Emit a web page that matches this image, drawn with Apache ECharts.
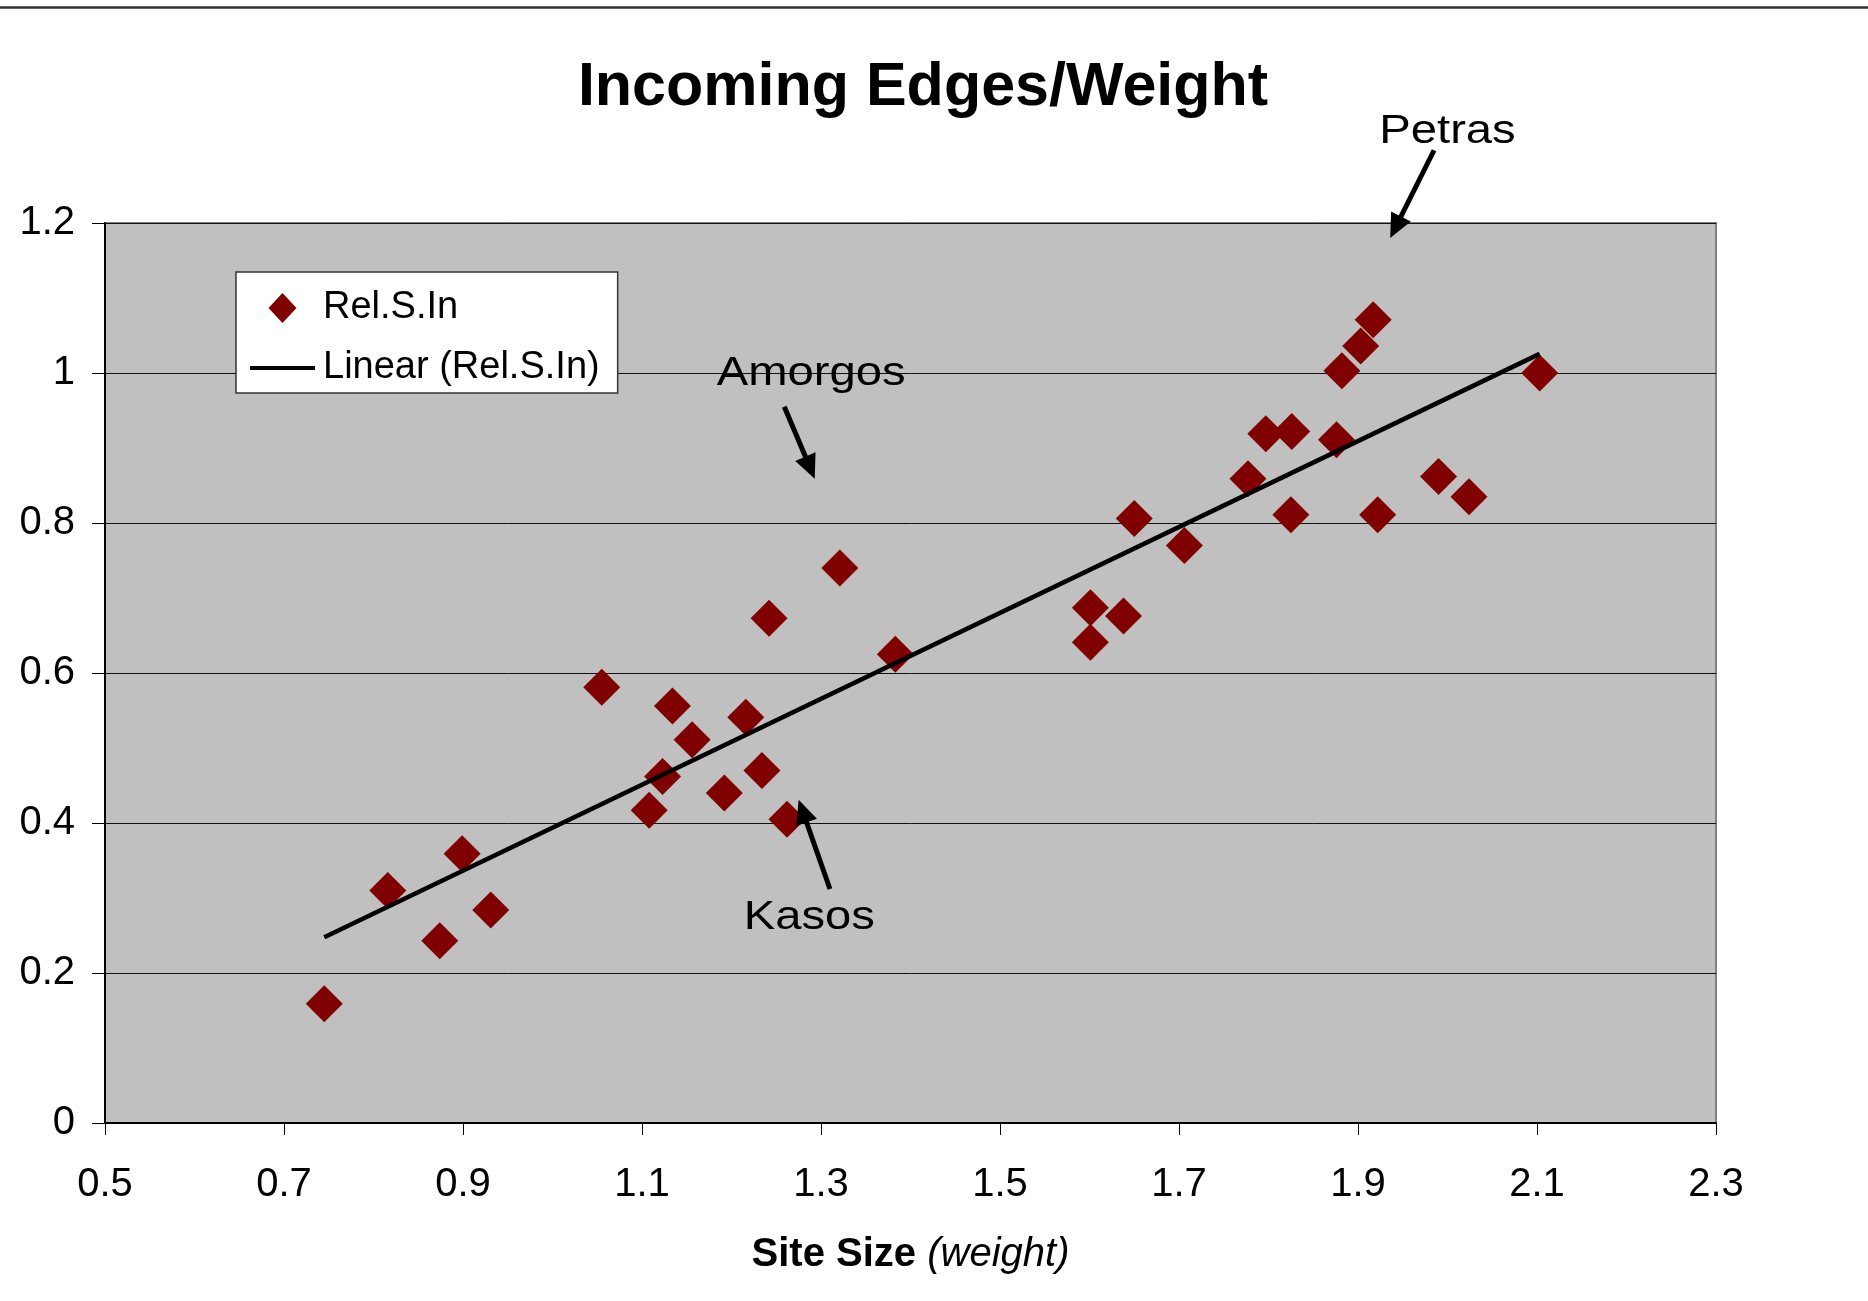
<!DOCTYPE html>
<html>
<head>
<meta charset="utf-8">
<script src="https://cdn.jsdelivr.net/npm/echarts@6/dist/echarts.min.js"></script>
<style>
html,body{margin:0;padding:0;background:#fff;}
#c{width:1868px;height:1301px;}
</style>
</head>
<body>
<div id="c"></div>
<script>
// ---- data ----
const siteSize = [0.745,0.816,0.874,0.899,0.931,1.055,1.108,1.123,1.134,1.156,1.192,1.216,1.234,1.242,1.262,1.321,1.383,1.601,1.601,1.638,1.650,1.706,1.777,1.797,1.826,1.825,1.876,1.882,1.903,1.917,1.922,1.990,2.024,2.103];
const relSIn  = [0.159,0.310,0.243,0.359,0.284,0.581,0.417,0.462,0.556,0.511,0.440,0.541,0.470,0.673,0.405,0.740,0.625,0.687,0.641,0.676,0.806,0.770,0.859,0.919,0.922,0.811,0.911,1.003,1.036,1.071,0.811,0.862,0.835,1.000];
const xTickValues = [0.5,0.7,0.9,1.1,1.3,1.5,1.7,1.9,2.1,2.3];
const yTickValues = [0,0.2,0.4,0.6,0.8,1,1.2];
const seriesNames = ['Rel.S.In','Linear (Rel.S.In)'];
const chartTitle = 'Incoming Edges/Weight';
// annotation anchors in data units: label centre, arrow tail, arrow tip
const annotationLabels = ['Petras','Amorgos','Kasos'];
const annotationText  = [[2.000,1.322],[1.289,0.999],[1.287,0.274]];
const annotationTail  = [[1.985,1.297],[1.259,0.955],[1.310,0.312]];
const annotationTip   = [[1.936,1.180],[1.293,0.859],[1.275,0.431]];

// ---- linear least-squares trend line (as the spreadsheet trendline) ----
const n = siteSize.length;
let sx=0,sy=0,sxx=0,sxy=0;
for(let i=0;i<n;i++){sx+=siteSize[i];sy+=relSIn[i];sxx+=siteSize[i]*siteSize[i];sxy+=siteSize[i]*relSIn[i];}
const slope=(n*sxy-sx*sy)/(n*sxx-sx*sx);
const intercept=(sy-slope*sx)/n;
const xMin=Math.min(...siteSize), xMax=Math.max(...siteSize);
const trend=[[xMin,intercept+slope*xMin],[xMax,intercept+slope*xMax]];

const FONT='"Liberation Sans", Arial, sans-serif';
// legend icons drawn inside a 65x30 box (extra moveTo points fix the box)
const diamondIcon='path://M0,0 M65,30 M32.5,0 L46.5,15 L32.5,30 L18.5,15 Z';
const lineIcon='path://M0,0 M65,30 M0,13 L65,13 L65,17 L0,17 Z';

const chart=echarts.init(document.getElementById('c'),null,{renderer:'canvas'});
chart.setOption({
  animation:false,
  backgroundColor:'#ffffff',
  grid:{left:105,right:152,top:223,bottom:178,show:true,backgroundColor:'#C0C0C0',borderColor:'#808080',borderWidth:2},
  legend:{
    orient:'vertical',left:236,top:272,
    padding:[17,18,6,14],itemGap:22,itemWidth:65,itemHeight:30,
    backgroundColor:'#ffffff',borderColor:'#333333',borderWidth:1.5,borderRadius:0,
    textStyle:{fontFamily:FONT,fontSize:38,color:'#000',padding:[0,0,0,3]},
    data:[{name:seriesNames[0],icon:diamondIcon},{name:seriesNames[1],icon:lineIcon}]
  },
  xAxis:{
    type:'value',min:xTickValues[0],max:xTickValues[xTickValues.length-1],interval:0.2,
    axisLine:{show:true,onZero:false,lineStyle:{color:'#000',width:2}},
    axisTick:{show:true,length:12,lineStyle:{color:'#000',width:1}},
    splitLine:{show:false},
    axisLabel:{fontFamily:FONT,fontSize:40,color:'#000',margin:42,formatter:v=>String(+v.toFixed(1))},
    name:'{b|Site Size }{i|(weight)}',nameLocation:'middle',nameGap:112,
    nameTextStyle:{rich:{b:{fontFamily:FONT,fontSize:40,fontWeight:'bold',color:'#000'},i:{fontFamily:FONT,fontSize:40,fontStyle:'italic',color:'#000'}}}
  },
  yAxis:{
    type:'value',min:yTickValues[0],max:yTickValues[yTickValues.length-1],interval:0.2,
    axisLine:{show:true,lineStyle:{color:'#000',width:2}},
    axisTick:{show:true,length:13,lineStyle:{color:'#000',width:1}},
    splitLine:{show:true,lineStyle:{color:'#111',width:1}},
    axisLabel:{fontFamily:FONT,fontSize:40,color:'#000',margin:30,formatter:v=>String(+v.toFixed(1))}
  },
  series:[
    {name:seriesNames[0],type:'scatter',symbol:'diamond',symbolSize:37,z:2,
     itemStyle:{color:'#800000',opacity:1},
     data:siteSize.map((x,i)=>[x,relSIn[i]])},
    {name:seriesNames[1],type:'line',symbol:'none',z:3,
     itemStyle:{color:'#000'},
     lineStyle:{color:'#000',width:4.5},
     data:trend}
  ]
});

// ---- overlay: title, top rule, annotations with arrows ----
const g=[];
g.push({type:'line',shape:{x1:0,y1:7.5,x2:1868,y2:7.5},style:{stroke:'#333',lineWidth:2.5},z:10});
g.push({type:'text',x:923,y:88,style:{text:chartTitle,font:'bold 61px '+FONT,fill:'#000',align:'center',verticalAlign:'middle'},z:10});
for(let k=0;k<annotationLabels.length;k++){
  const tp=chart.convertToPixel({gridIndex:0},annotationText[k]);
  const ta=chart.convertToPixel({gridIndex:0},annotationTail[k]);
  const ti=chart.convertToPixel({gridIndex:0},annotationTip[k]);
  g.push({type:'text',x:tp[0],y:tp[1],scaleX:1.18,scaleY:1,style:{text:annotationLabels[k],font:'40px '+FONT,fill:'#000',align:'center',verticalAlign:'middle'},z:10});
  const dx=ti[0]-ta[0],dy=ti[1]-ta[1],L=Math.hypot(dx,dy),ux=dx/L,uy=dy/L,nx=-uy,ny=ux;
  const hl=24,hw=11;
  g.push({type:'line',shape:{x1:ta[0],y1:ta[1],x2:ti[0]-ux*(hl-4),y2:ti[1]-uy*(hl-4)},style:{stroke:'#000',lineWidth:5},z:10});
  g.push({type:'polygon',shape:{points:[[ti[0],ti[1]],[ti[0]-ux*hl+nx*hw,ti[1]-uy*hl+ny*hw],[ti[0]-ux*hl-nx*hw,ti[1]-uy*hl-ny*hw]]},style:{fill:'#000'},z:10});
}
chart.setOption({graphic:g});
</script>
</body>
</html>
